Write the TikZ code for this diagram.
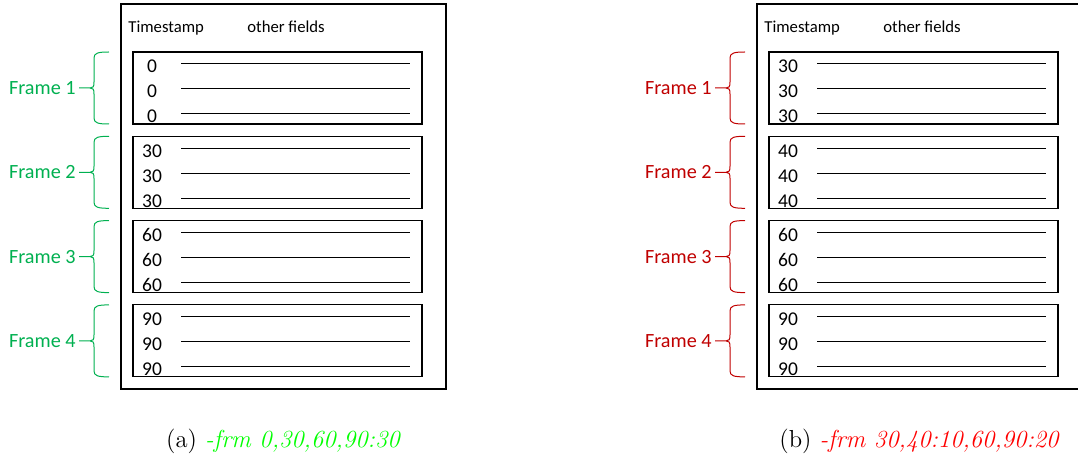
\documentclass[tikz,border=0pt]{standalone}
\usepackage{fontspec}
\newfontfamily\calibri{Carlito}
\usepackage{xcolor}
\usepackage{tikz}
\usetikzlibrary{calc,positioning}
\definecolor{framegreen}{RGB}{0,176,80}
\definecolor{framered}{RGB}{192,0,0}
\tikzset{
   outer box/.style={draw, line width=0.7pt, minimum width=162.5pt, minimum height=192.5pt,
      inner sep=0pt, outer sep=0pt},
   frame box/.style={draw, line width=0.6pt, minimum width=144.5pt, minimum height=36pt,
      inner sep=0pt, outer sep=0pt, anchor=north west},
   field line/.style={line width=0.5pt},
   head/.style={font=\calibri\fontsize{8.35}{10}\selectfont, inner sep=0pt, anchor=base west},
   stamp/.style={font=\calibri\fontsize{9.75}{12}\selectfont, inner sep=0pt, anchor=base},
   frame label/.style={font=\calibri\fontsize{10.1}{12}\selectfont, inner sep=1pt, anchor=east},
   brace/.style={line width=0.5pt},
   sub cap/.style={font=\fontsize{12.3}{14}\selectfont, inner sep=0pt, anchor=base}
}

\begin{document}
\begin{tikzpicture}[x=0.5pt, y=-0.5pt]
  \useasboundingbox (0,0) rectangle (1078,459);
  \foreach \p/\dx/\col/\capcol/\opt/\vals in {a/0/framegreen/green/{0,30,60,90:30}/{0,30,60,90},
                                             b/636/framered/red/{30,40:10,60,90:20}/{30,40,60,90}} {
    \node[outer box] (\p) at (283.5+\dx,196.5) {};
    \node[head] (\p-ts) at ($(\p.north west)+(7,29)$) {Timestamp};
    \node[head] (\p-of) at ($(\p.north west)+(126,29)$) {other fields};
    \foreach \v [count=\i] in \vals {
      \node[frame box] (\p\i) at ($(\p.north west)+(12,{48+84.3*(\i-1)})$) {};
      \foreach \j in {1,2,3} {
        \node[stamp] (\p\i-\j) at ($(\p\i.north west)+(19,{21+25*(\j-1)})$) {\v};
        \draw[field line] ($(\p\i.north west)+(48,{12+25*(\j-1)})$) -- +(229,0);
      }
      % curly brace on the left of each frame
      \begin{scope}[shift={(\p\i.north west)}, color=\col]
        \draw[brace] (-24,0) .. controls (-35,0) and (-39,1) .. (-39,6) -- (-39,30)
          .. controls (-39,35) and (-40,36) .. (-43,36)
          .. controls (-40,36) and (-39,37) .. (-39,42) -- (-39,66)
          .. controls (-39,71) and (-35,72) .. (-24,72)
          (-43,36) -- (-54,36);
        \node[frame label] (\p\i-lbl) at (-55,36) {Frame \i};
      \end{scope}
    }
    \node[sub cap] (\p-cap) at ($(\p.south)+(0,59)$) {(\p)~\textcolor{\capcol}{\textit{-frm \opt}}};
  }
\end{tikzpicture}
\end{document}
